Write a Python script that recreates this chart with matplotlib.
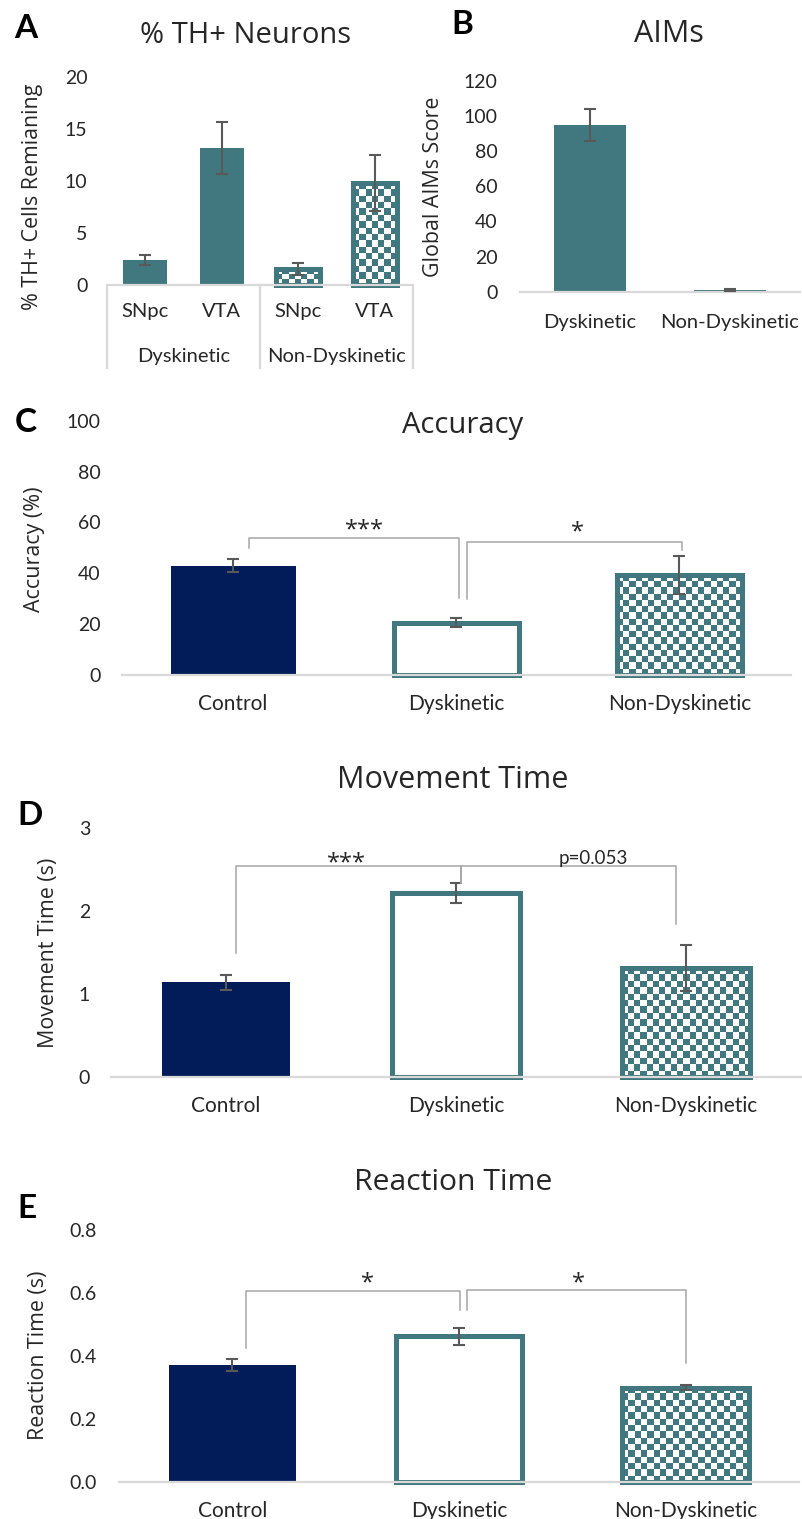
import numpy as np
import matplotlib
matplotlib.use('Agg')
import matplotlib.pyplot as plt
from matplotlib.colors import ListedColormap
import matplotlib.transforms as mtransforms

plt.rcParams['font.family'] = ['Lato', 'DejaVu Sans']
WIDE = ['Open Sans', 'DejaVu Sans']

W, H = 802, 1519
TEAL = '#41787F'
NAVY = '#021C5A'
ERR = '#595959'
AXIS = '#D9D9D9'
BRK = '#A6A6A6'
TXT = '#262626'

# ---------------- data ----------------
a_regions = ['SNpc', 'VTA', 'SNpc', 'VTA']
a_groups = ['Dyskinetic', 'Non-Dyskinetic']
a_values = [2.4, 13.2, 1.55, 9.8]
a_errors = [0.5, 2.5, 0.55, 2.7]
a_styles = ['solid', 'solid', 'checker', 'checker']

b_groups = ['Dyskinetic', 'Non-Dyskinetic']
b_values = [95.0, 1.0]
b_errors = [9.0, 0.5]

groups = ['Control', 'Dyskinetic', 'Non-Dyskinetic']
group_styles = ['navy', 'outline', 'checker']
acc_values = [43.0, 20.5, 39.2]
acc_errors = [2.5, 1.75, 7.4]
mt_values = [1.14, 2.22, 1.31]
mt_errors = [0.087, 0.125, 0.275]
rt_values = [0.371, 0.462, 0.299]
rt_errors = [0.019, 0.027, 0.008]

# significance annotations: (x_left, x_right, y_top, y_left_end, y_right_end)
acc_brackets = [(0.07, 1.01, 53.8, 49.8, 30.2), (1.05, 2.01, 52.4, 29.8, 49.2)]
acc_labels = [(0.587, 59.0, '***'), (1.542, 58.3, '*')]
mt_brackets = [(0.045, 1.02, 2.54, 1.49, 2.34), (1.02, 1.955, 2.54, 2.34, 1.85)]
mt_labels = [(0.524, 2.64, '***'), (1.595, 2.64, 'p=0.053')]
rt_brackets = [(0.059, 1.006, 0.606, 0.424, 0.546), (1.035, 2.0, 0.61, 0.546, 0.376)]
rt_labels = [(0.594, 0.647, '*'), (1.525, 0.647, '*')]

fig = plt.figure(figsize=(W / 100, H / 100), dpi=100)


def rect(x0, y0, x1, y1):
    return [x0 / W, 1 - y1 / H, (x1 - x0) / W, (y1 - y0) / H]


def fx(x):
    return x / W


def fy(y):
    return 1 - y / H


def checker_fill(ax, bar, cell_px=6.2):
    x0, y0 = bar.get_x(), bar.get_y()
    w, h = bar.get_width(), bar.get_height()
    p0 = ax.transData.transform((x0, y0))
    p1 = ax.transData.transform((x0 + w, y0 + h))
    nx = max(1, int(round((p1[0] - p0[0]) / cell_px)))
    ny = max(1, int(round((p1[1] - p0[1]) / cell_px)))
    grid = np.indices((ny, nx)).sum(axis=0) % 2
    im = ax.imshow(grid, extent=(x0, x0 + w, y0, y0 + h), origin='upper',
                   cmap=ListedColormap(['white', TEAL]), interpolation='nearest',
                   aspect='auto', zorder=1)
    im.set_clip_path(bar)


def style_axes(ax, pad):
    for s in ['left', 'right', 'top']:
        ax.spines[s].set_visible(False)
    ax.spines['bottom'].set_color(AXIS)
    ax.spines['bottom'].set_linewidth(1.6)
    ax.tick_params(axis='both', length=0, labelsize=14, colors=TXT)
    ax.tick_params(axis='y', pad=pad)


def draw_bars(ax, values, errors, styles, width):
    x = np.arange(len(values))
    for xi, v, st in zip(x, values, styles):
        if st == 'solid':
            ax.bar(xi, v, width=width, color=TEAL, zorder=2)
        elif st == 'navy':
            ax.bar(xi, v, width=width, color=NAVY, zorder=2)
        elif st == 'outline':
            ax.bar(xi, v, width=width, facecolor='white', edgecolor=TEAL,
                   linewidth=3.6, zorder=2, clip_on=False)
        elif st == 'checker':
            b = ax.bar(xi, v, width=width, facecolor='none', edgecolor=TEAL,
                       linewidth=3.6, zorder=2, clip_on=False)
            checker_fill(ax, b[0])
    ax.errorbar(x, values, yerr=errors, fmt='none', ecolor=ERR, elinewidth=1.5,
                capsize=4, capthick=1.5, zorder=5, clip_on=False)


def draw_brackets(ax, brackets, labels):
    for (xl, xr, yt, yle, yre) in brackets:
        ax.plot([xl, xl, xr, xr], [yle, yt, yt, yre], color=BRK, lw=1.1,
                clip_on=False, zorder=6)
    for (xt, yt, txt) in labels:
        if txt.startswith('*'):
            ax.annotate(txt, (xt, yt), xytext=(0, -4), textcoords='offset points',
                        ha='center', va='center', fontsize=17, family=WIDE,
                        color=TXT, zorder=7)
        else:
            ax.text(xt, yt, txt, ha='center', va='center', fontsize=13.5,
                    color=TXT, zorder=7)


# ---------------- Panel A ----------------
axA = fig.add_axes(rect(107, 77, 413, 285))
axA.set_xlim(-0.5, 3.5)
axA.set_ylim(0, 20)
draw_bars(axA, a_values, a_errors, a_styles, 0.57)
axA.set_xlim(-0.5, 3.5)
axA.set_ylim(0, 20)
style_axes(axA, 14)
axA.set_yticks([0, 5, 10, 15, 20])
axA.set_xticks(np.arange(len(a_regions)))
axA.set_xticklabels(a_regions, fontsize=14.5)
axA.tick_params(axis='x', pad=13)
trA = mtransforms.blended_transform_factory(axA.transData, axA.transAxes)
for xs in [-0.5, 1.5, 3.5]:
    axA.plot([xs, xs], [0, -0.40], color=AXIS, lw=1.6, transform=trA, clip_on=False)
for gi, g in enumerate(a_groups):
    axA.text(0.5 + 2 * gi, -0.345, g, transform=trA, ha='center', va='center',
             fontsize=14.5, color=TXT)
axA.set_ylabel('% TH+ Cells Remianing', fontsize=15.4, color=TXT, family=WIDE)
axA.yaxis.set_label_coords(fx(43), fy(197), transform=fig.transFigure)
fig.text(fx(245), fy(42.7), '% TH+ Neurons', ha='center', va='baseline', fontsize=21,
         color=TXT, family=WIDE)
fig.text(fx(14), fy(38.5), 'A', ha='left', va='baseline', fontsize=24,
         fontweight='bold', color='black')

# ---------------- Panel B ----------------
axB = fig.add_axes(rect(520, 81, 800, 291.7))
draw_bars(axB, b_values, b_errors, ['solid', 'solid'], 0.51)
axB.set_xlim(-0.5, 1.5)
axB.set_ylim(0, 120)
style_axes(axB, 16)
axB.set_yticks(np.arange(0, 121, 20))
axB.set_xticks(np.arange(len(b_groups)))
axB.set_xticklabels(b_groups, fontsize=14.5)
axB.tick_params(axis='x', pad=16)
axB.set_ylabel('Global AIMs Score', fontsize=15.4, color=TXT, family=WIDE)
axB.yaxis.set_label_coords(fx(444), fy(187), transform=fig.transFigure)
fig.text(fx(669), fy(41.7), 'AIMs', ha='center', va='baseline', fontsize=22,
         color=TXT, family=WIDE)
fig.text(fx(451), fy(33.5), 'B', ha='left', va='baseline', fontsize=24,
         fontweight='bold', color='black')


# ---------------- Panels C-E ----------------
def behaviour_panel(r, values, errors, ylim, ticks, fmt, ylabel, ylab_xy, title,
                    title_xy, title_fs, letter, letter_xy, brackets, labels, ypad):
    ax = fig.add_axes(rect(*r))
    ax.set_xlim(-0.5, 2.5)
    ax.set_ylim(*ylim)
    draw_bars(ax, values, errors, group_styles, 0.56)
    ax.set_xlim(-0.5, 2.5)
    ax.set_ylim(*ylim)
    style_axes(ax, ypad)
    ax.set_yticks(ticks)
    ax.set_yticklabels([fmt.format(t) for t in ticks])
    ax.set_xticks(np.arange(len(groups)))
    ax.set_xticklabels(groups, fontsize=15)
    ax.tick_params(axis='x', pad=14)
    ax.set_ylabel(ylabel, fontsize=15.4, color=TXT, family=WIDE)
    ax.yaxis.set_label_coords(fx(ylab_xy[0]), fy(ylab_xy[1]), transform=fig.transFigure)
    draw_brackets(ax, brackets, labels)
    fig.text(fx(title_xy[0]), fy(title_xy[1]), title, ha='center', va='baseline',
             fontsize=title_fs, color=TXT, family=WIDE)
    fig.text(fx(letter_xy[0]), fy(letter_xy[1]), letter, ha='left', va='baseline',
             fontsize=24, fontweight='bold', color='black')
    return ax


behaviour_panel((121.6, 420.7, 791, 675), acc_values, acc_errors, (0, 100),
                [0, 20, 40, 60, 80, 100], '{:.0f}', 'Accuracy (%)', (44.7, 549),
                'Accuracy', (463, 432.7), 21, 'C', (15, 431.7),
                acc_brackets, acc_labels, 15)

behaviour_panel((111, 828.3, 801, 1076.7), mt_values, mt_errors, (0, 3),
                [0, 1, 2, 3], '{:.0f}', 'Movement Time (s)', (59.5, 953),
                'Movement Time', (452.6, 788.3), 22, 'D', (17, 825),
                mt_brackets, mt_labels, 15)

behaviour_panel((119, 1230, 799, 1481.7), rt_values, rt_errors, (0, 0.8),
                [0.0, 0.2, 0.4, 0.6, 0.8], '{:.1f}', 'Reaction Time (s)', (49, 1355),
                'Reaction Time', (452.7, 1190), 21.7, 'E', (17, 1218.3),
                rt_brackets, rt_labels, 16)

fig.savefig('out.png', dpi=100, facecolor='white')
